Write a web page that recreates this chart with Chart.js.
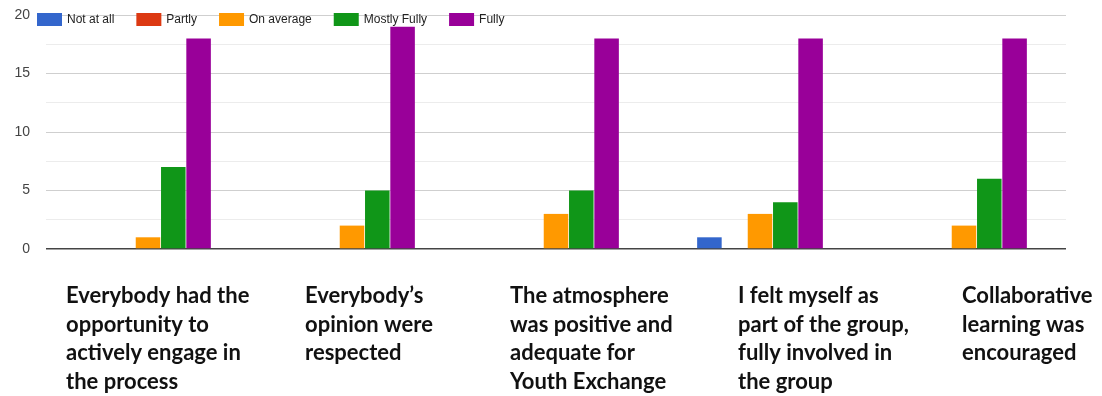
<!DOCTYPE html>
<html>
<head>
<meta charset="utf-8">
<script src="https://cdn.jsdelivr.net/npm/chart.js@4.4.1/dist/chart.umd.min.js"></script>
<style>
  html, body { margin: 0; padding: 0; background: #fff; }
  #wrap { position: relative; width: 1102px; height: 396px; }
</style>
</head>
<body>
<div id="wrap"><canvas id="chart"></canvas></div>
<script>
// categories (as they break on the slide)
const categories = [
  ["Everybody had the", "opportunity to", "actively engage in", "the process"],
  ["Everybody\u2019s", "opinion were", "respected"],
  ["The atmosphere", "was positive and", "adequate for", "Youth Exchange"],
  ["I felt myself as", "part of the group,", "fully involved in", "the group"],
  ["Collaborative", "learning was", "encouraged"]
];

const seriesNames = ["Not at all", "Partly", "On average", "Mostly Fully", "Fully"];
const notAtAll = [0, 0, 0, 1, 0];
const partly = [0, 0, 0, 0, 0];
const onAverage = [1, 2, 3, 3, 2];
const mostlyFully = [7, 5, 5, 4, 6];
const fully = [18, 19, 18, 18, 18];

const yTicks = [0, 5, 10, 15, 20];

const colors = ["#3366cc", "#dc3912", "#ff9900", "#109618", "#990099"];
// label blocks are pasted left-aligned, shifted from each group centre
const labelShift = [-82, -47, -46, -22, -2];

const allSeries = [notAtAll, partly, onAverage, mostlyFully, fully];

const categoryLabels = {
  id: "categoryLabels",
  afterDraw(chart) {
    const { ctx, scales: { x } } = chart;
    ctx.save();
    ctx.font = "bold 22px Lato, 'Open Sans', sans-serif";
    ctx.fillStyle = "#111";
    ctx.textAlign = "left";
    ctx.textBaseline = "alphabetic";
    categories.forEach((lines, i) => {
      const left = x.getPixelForValue(i) + labelShift[i];
      lines.forEach((line, j) => ctx.fillText(line, left, 303 + j * 28.5));
    });
    ctx.restore();
  }
};

// one-row legend laid over the top gridline, like the Google Forms chart
const topLegend = {
  id: "topLegend",
  afterDraw(chart) {
    const { ctx, chartArea } = chart;
    let x = chartArea.left - 9;
    const y = chartArea.top - 2;
    ctx.save();
    ctx.font = "12px 'Liberation Sans', Arial, sans-serif";
    ctx.textBaseline = "middle";
    ctx.textAlign = "left";
    chart.data.datasets.forEach((ds) => {
      ctx.fillStyle = ds.backgroundColor;
      ctx.fillRect(x, y, 25, 13);
      ctx.fillStyle = "#222";
      ctx.fillText(ds.label, x + 30, y + 7);
      x += 30 + ctx.measureText(ds.label).width + 22;
    });
    ctx.restore();
  }
};

new Chart(document.getElementById("chart"), {
  type: "bar",
  data: {
    labels: categories.map((c) => c.join(" ")),
    datasets: seriesNames.map((name, i) => ({
      label: name,
      data: allSeries[i],
      backgroundColor: colors[i],
      borderWidth: 0,
      categoryPercentage: 0.62,
      barPercentage: 0.97
    }))
  },
  options: {
    responsive: true,
    maintainAspectRatio: false,
    animation: false,
    layout: { padding: { top: 15, right: 36, bottom: 147, left: 0 } },
    plugins: {
      legend: { display: false },
      tooltip: { enabled: false }
    },
    scales: {
      x: { display: false },
      y: {
        min: 0,
        max: 20,
        afterFit: (axis) => {
          axis.width = 46;
          axis.paddingTop = 8;
          axis.paddingBottom = 8;
        },
        border: { display: false },
        grid: {
          drawTicks: false,
          lineWidth: (c) => (c.tick && c.tick.value === 0 ? 1.5 : 1),
          color: (c) => {
            const v = c.tick ? c.tick.value : 1;
            if (v === 0) return "#444";
            return v % 5 === 0 ? "#cfcfcf" : "#ececec";
          }
        },
        ticks: {
          stepSize: 2.5,
          padding: 16,
          color: "#444",
          font: { family: "'Liberation Sans', Arial, sans-serif", size: 14 },
          callback: (v) => (yTicks.includes(v) ? v : "")
        }
      }
    }
  },
  plugins: [categoryLabels, topLegend]
});
</script>
</body>
</html>
